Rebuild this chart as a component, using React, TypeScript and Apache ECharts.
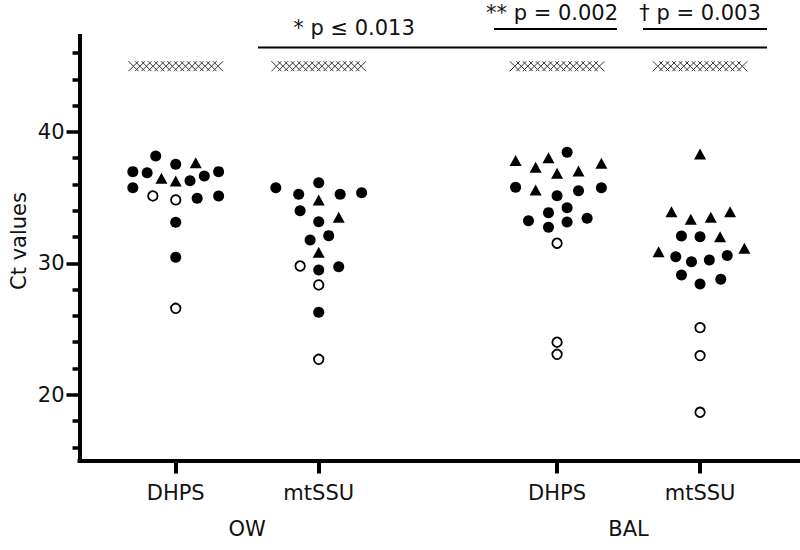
import React, { useEffect, useRef } from "react";
import * as echarts from "echarts";

// ---- categories / labels ----
const groupPositions = [1, 2, 3.667, 4.667];
const geneLabels = ["DHPS", "mtSSU", "DHPS", "mtSSU"];
const sampleCenters = [1.5, 4.1667];
const sampleLabels = ["OW", "BAL"];
const yMajorTicks = [20, 30, 40];
const yMinorTicks = [16, 18, 22, 24, 26, 28, 32, 34, 36, 38, 42, 44, 46];
const pValueLabels = ["* p \u2264 0.013", "** p = 0.002", "\u2020 p = 0.003"];
const yTitle = "Ct values";

// ---- data: [horizontal jitter within column, Ct value] ----
const owDhpsFilled = [
  [-0.14, 38.17], [0, 37.54], [-0.3, 36.98], [-0.2, 36.9], [0.1, 36.29], [0.2, 36.65],
  [0.3, 36.98], [-0.3, 35.76], [0.15, 34.95], [0.3, 35.13], [0, 33.13], [0, 30.46],
];
const owDhpsTriangle = [[0.14, 37.66], [-0.1, 36.48], [0, 36.27]];
const owDhpsOpen = [[-0.16, 35.13], [0, 34.83], [0, 26.58]];

const owMtssuFilled = [
  [-0.3, 35.76], [0, 36.14], [-0.14, 35.26], [0.15, 35.26], [0.3, 35.38], [-0.13, 34.01],
  [0, 33.17], [-0.06, 31.78], [0.07, 32.11], [0, 29.5], [0.14, 29.75], [0, 26.28],
];
const owMtssuTriangle = [[0, 34.83], [0.14, 33.51], [0, 30.84]];
const owMtssuOpen = [[-0.13, 29.8], [0, 28.36], [0, 22.7]];

const balDhpsFilled = [
  [0.07, 38.45], [-0.29, 35.79], [0, 35.15], [0.15, 35.53], [0.31, 35.76], [0.07, 34.24],
  [-0.06, 33.86], [-0.2, 33.25], [-0.06, 32.75], [0.07, 33.15], [0.21, 33.43],
];
const balDhpsTriangle = [
  [-0.29, 37.82], [-0.06, 38.04], [-0.15, 37.31], [0, 36.86], [0.15, 37.03], [0.31, 37.62], [-0.15, 35.59],
];
const balDhpsOpen = [[0, 31.53], [0, 24.0], [0, 23.08]];

const balMtssuFilled = [
  [-0.13, 32.09], [0, 32.03], [-0.17, 30.51], [-0.06, 30.13], [0.065, 30.26], [0.19, 30.59],
  [-0.13, 29.12], [0, 28.43], [0.145, 28.79],
];
const balMtssuTriangle = [
  [0, 38.33], [-0.2, 33.93], [-0.065, 33.36], [0.075, 33.51], [0.21, 33.93], [0.14, 32.03],
  [-0.29, 30.89], [0.31, 31.15],
];
const balMtssuOpen = [[0, 25.11], [0, 22.98], [0, 18.67]];

// undetermined samples, plotted at Ct 45
const undeterminedCt = 45;
const undeterminedCounts = [14, 14, 14, 14];

// ---- building ----
const filledGroups = [owDhpsFilled, owMtssuFilled, balDhpsFilled, balMtssuFilled];
const triangleGroups = [owDhpsTriangle, owMtssuTriangle, balDhpsTriangle, balMtssuTriangle];
const openGroups = [owDhpsOpen, owMtssuOpen, balDhpsOpen, balMtssuOpen];

const toData = (groups: number[][][]) =>
  groups.flatMap((pts, g) => pts.map(([dx, y]) => [groupPositions[g] + dx, y]));

const crossStep = 0.0455;
const undeterminedData = undeterminedCounts.flatMap((n, g) =>
  Array.from({ length: n }, (_, i) => [groupPositions[g] + (i - (n - 1) / 2) * crossStep, undeterminedCt])
);

const FONT = "DejaVu Sans";
const TXT = "#111";
const FS = 21;

const bracketLayout = [
  { x1: 258, x2: 767, lineY: 47.5, textX: 354, textY: 28 },
  { x1: 494, x2: 617, lineY: 29, textX: 552, textY: 13 },
  { x1: 643, x2: 767, lineY: 29, textX: 700, textY: 13 },
];

const labelFor = (positions: number[], labels: string[]) => (v: number) => {
  const i = positions.findIndex((p) => Math.abs(p - v) < 1e-3);
  return i >= 0 ? labels[i] : "";
};

const option: any = {
  animation: false,
  backgroundColor: "#fff",
  textStyle: { fontFamily: FONT },
  grid: { left: 79.5, right: 2, top: 36, bottom: 89.5 },
  xAxis: [
    {
      type: "value",
      min: 0.327,
      max: 5.352,
      splitLine: { show: false },
      axisLine: { lineStyle: { color: "#000", width: 4, cap: "square" } },
      axisTick: { customValues: groupPositions, length: 13, lineStyle: { color: "#000", width: 4 } },
      axisLabel: {
        customValues: groupPositions,
        formatter: labelFor(groupPositions, geneLabels),
        fontSize: FS,
        color: TXT,
        fontFamily: FONT,
        margin: 22,
      },
    },
    {
      type: "value",
      min: 0.327,
      max: 5.352,
      position: "bottom",
      splitLine: { show: false },
      axisLine: { show: false },
      axisTick: { show: false },
      axisLabel: {
        customValues: sampleCenters,
        formatter: labelFor(sampleCenters, sampleLabels),
        fontSize: FS,
        color: TXT,
        fontFamily: FONT,
        margin: 58,
      },
    },
  ],
  yAxis: [
    {
      type: "value",
      min: 15,
      max: 47.3,
      position: "left",
      splitLine: { show: false },
      axisLine: { lineStyle: { color: "#000", width: 4, cap: "square" } },
      axisTick: { customValues: yMajorTicks, length: 13, lineStyle: { color: "#000", width: 3.5 } },
      axisLabel: { customValues: yMajorTicks, fontSize: FS, color: TXT, fontFamily: FONT, margin: 15 },
    },
    {
      type: "value",
      min: 15,
      max: 47.3,
      position: "left",
      splitLine: { show: false },
      axisLine: { show: false },
      axisTick: { customValues: yMinorTicks, length: 7, lineStyle: { color: "#000", width: 3.5 } },
      axisLabel: { show: false },
    },
  ],
  series: [
    {
      type: "scatter",
      name: "undetermined",
      data: undeterminedData,
      symbol: "path://M0,0L10,10M0,10L10,0",
      symbolSize: [10, 10],
      itemStyle: { color: "rgba(0,0,0,0)", borderColor: "#333", borderWidth: 1, opacity: 1 },
    },
    {
      type: "scatter",
      name: "open",
      data: toData(openGroups),
      symbol: "circle",
      symbolSize: 9.5,
      itemStyle: { color: "#fff", borderColor: "#000", borderWidth: 1.8, opacity: 1 },
    },
    {
      type: "scatter",
      name: "filled",
      data: toData(filledGroups),
      symbol: "circle",
      symbolSize: 11,
      itemStyle: { color: "#000", opacity: 1 },
    },
    {
      type: "scatter",
      name: "triangle",
      data: toData(triangleGroups),
      symbol: "triangle",
      symbolSize: [12, 11],
      itemStyle: { color: "#000", opacity: 1 },
    },
  ],
  graphic: [
    {
      type: "text",
      x: 19,
      y: 241,
      rotation: Math.PI / 2,
      style: {
        text: yTitle,
        fontSize: FS,
        fontFamily: FONT,
        fill: TXT,
        textAlign: "center",
        textVerticalAlign: "middle",
      },
    },
    ...bracketLayout.flatMap((b, i) => [
      {
        type: "line",
        shape: { x1: b.x1, y1: b.lineY, x2: b.x2, y2: b.lineY },
        style: { stroke: "#000", lineWidth: 2 },
      },
      {
        type: "text",
        x: b.textX,
        y: b.textY,
        style: {
          text: pValueLabels[i],
          fontSize: FS,
          fontFamily: FONT,
          fill: TXT,
          textAlign: "center",
          textVerticalAlign: "middle",
        },
      },
    ]),
  ],
};

export default function App() {
  const ref = useRef<HTMLDivElement>(null);
  useEffect(() => {
    if (!ref.current) return;
    const chart = echarts.init(ref.current, null, { renderer: "svg" });
    chart.setOption(option);
    return () => chart.dispose();
  }, []);
  return <div ref={ref} style={{ position: "fixed", left: 0, top: 0, width: 800, height: 550 }} />;
}
